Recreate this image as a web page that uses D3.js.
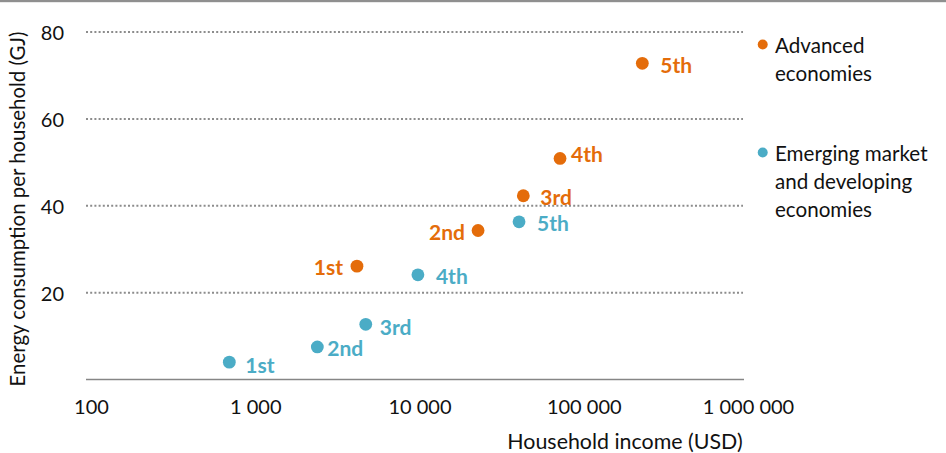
<!DOCTYPE html>
<html>
<head>
<meta charset="utf-8">
<script src="https://cdn.jsdelivr.net/npm/d3@7"></script>
<style>
  html, body { margin: 0; padding: 0; background: #fff; }
  svg { display: block; font-family: Lato, "Open Sans", sans-serif; }
</style>
</head>
<body>
<svg id="chart" width="946" height="453"></svg>
<script>
// Household income quintiles
const quintiles = ["1st", "2nd", "3rd", "4th", "5th"];

// Household income (USD) per quintile
const advancedIncome = [4340, 23700, 44700, 74800, 237000];
const emergingIncome = [725, 2490, 4910, 10200, 42100];

// Energy consumption per household (GJ) per quintile
const advancedEnergy = [26.1, 34.3, 42.3, 50.9, 72.8];
const emergingEnergy = [4.0, 7.5, 12.7, 24.1, 36.3];

const seriesNames = ["Advanced economies", "Emerging market and developing economies"];
const legendLines = [["Advanced", "economies"], ["Emerging market", "and developing", "economies"]];

const xTicks = [100, 1000, 10000, 100000, 1000000];
const yTicks = [20, 40, 60, 80];

const colors = ["#E46C0A", "#4BACC6"];

// Where each point label sits relative to its marker: side, gap, vertical nudge
const labelPlacement = [
  [["end", 14, 0], ["end", 13, 1], ["start", 17, 1], ["start", 11, -5], ["start", 18, 1]],
  [["start", 16, 2], ["start", 10, 1], ["start", 14, 2], ["start", 18, 1], ["start", 18, 1]]
];

const svg = d3.select("#chart");

const x = d3.scaleLog().domain([100, 1000000]).range([88, 745]);
const y = d3.scaleLinear().domain([0, 80]).range([379.5, 32]);

// top rule
svg.append("rect").attr("x", 0).attr("y", 0).attr("width", 946).attr("height", 2.2).attr("fill", "#8f8f8f");

// horizontal dotted gridlines
svg.append("g").selectAll("line").data(yTicks).join("line")
  .attr("x1", x.range()[0] - 2).attr("x2", x.range()[1] - 2)
  .attr("y1", d => y(d)).attr("y2", d => y(d))
  .attr("stroke", "#8c8c8c").attr("stroke-width", 2)
  .attr("stroke-dasharray", "2,2.2");

// y tick labels
svg.append("g").selectAll("text").data(yTicks).join("text")
  .attr("x", 64).attr("y", d => y(d))
  .attr("text-anchor", "end").attr("dominant-baseline", "central")
  .attr("font-size", 20).attr("fill", "#111")
  .text(d => d);

// x axis baseline and tick labels
const xAxis = d3.axisBottom(x).tickValues(xTicks).tickSize(0).tickPadding(20)
  .tickFormat(d => d3.format(",")(d).replace(/,/g, " "));
const gx = svg.append("g").attr("transform", `translate(0,${y(0)})`).call(xAxis);
gx.select(".domain").attr("stroke", "#868686").attr("stroke-width", 1.6)
  .attr("d", `M${x.range()[0] - 2},0H${x.range()[1] - 1}`);
gx.selectAll(".tick text").attr("font-size", 20).attr("fill", "#111")
  .attr("font-family", "Lato, sans-serif").attr("dx", 3);

// axis titles
svg.append("text")
  .attr("transform", "translate(17,209) rotate(-90)")
  .attr("text-anchor", "middle").attr("dominant-baseline", "central")
  .attr("font-size", 20.4).attr("fill", "#111")
  .text("Energy consumption per household (GJ)");

svg.append("text")
  .attr("x", 625).attr("y", 441)
  .attr("text-anchor", "middle").attr("dominant-baseline", "central")
  .attr("font-size", 21.4).attr("fill", "#111")
  .text("Household income (USD)");

// scatter points with quintile labels
const series = [
  quintiles.map((q, i) => ({ q, i, inc: advancedIncome[i], gj: advancedEnergy[i] })),
  quintiles.map((q, i) => ({ q, i, inc: emergingIncome[i], gj: emergingEnergy[i] }))
];

series.forEach((pts, s) => {
  const g = svg.append("g").attr("class", "series").attr("data-name", seriesNames[s]);
  g.selectAll("circle").data(pts).join("circle")
    .attr("cx", d => x(d.inc)).attr("cy", d => y(d.gj))
    .attr("r", 6.4).attr("fill", colors[s]);
  g.selectAll("text").data(pts).join("text")
    .attr("x", d => {
      const [side, gap] = labelPlacement[s][d.i];
      return x(d.inc) + (side === "end" ? -gap : gap);
    })
    .attr("y", d => y(d.gj) + labelPlacement[s][d.i][2])
    .attr("text-anchor", d => labelPlacement[s][d.i][0])
    .attr("dominant-baseline", "central")
    .attr("font-size", 21).attr("font-weight", "bold").attr("fill", colors[s])
    .text(d => d.q);
});

// legend
const legendTop = [44.5, 152.5];
const legend = svg.append("g");
legendLines.forEach((lines, s) => {
  legend.append("circle").attr("cx", 762.7).attr("cy", legendTop[s]).attr("r", 5).attr("fill", colors[s]);
  legend.append("g").selectAll("text").data(lines).join("text")
    .attr("x", 775).attr("y", (d, k) => legendTop[s] + k * 28.3)
    .attr("dominant-baseline", "central")
    .attr("font-size", 20.6).attr("fill", "#111")
    .text(d => d);
});
</script>
</body>
</html>
